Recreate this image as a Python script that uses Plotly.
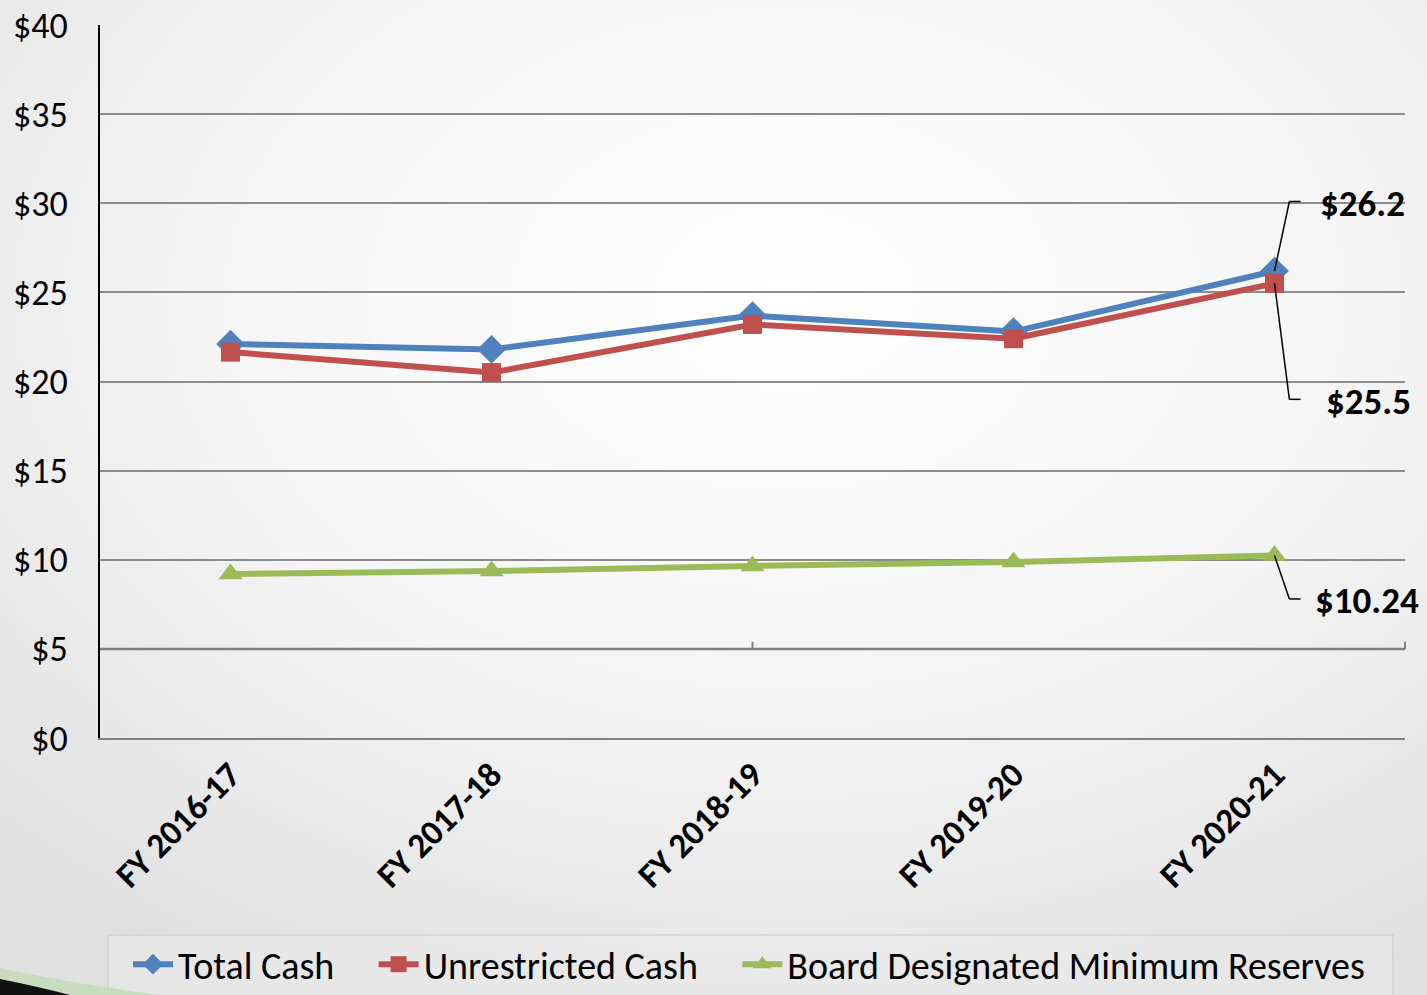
import base64
import plotly.graph_objs as go

# Chart data (millions of dollars)
fiscal_years = ['FY 2016-17', 'FY 2017-18', 'FY 2018-19', 'FY 2019-20', 'FY 2020-21']
total_cash = [22.1, 21.8, 23.7, 22.8, 26.2]
unrestricted_cash = [21.65, 20.5, 23.2, 22.4, 25.5]
board_reserves = [9.2, 9.37, 9.65, 9.87, 10.24]

y_ticks = [0, 5, 10, 15, 20, 25, 30, 35, 40]
y_tick_labels = ['$0', '$5', '$10', '$15', '$20', '$25', '$30', '$35', '$40']

# End-of-series callout labels
end_labels = ['$26.2', '$25.5', '$10.24']

font_family = 'Carlito, Calibri, "Liberation Sans Narrow", "Open Sans", sans-serif'
pad = '\u00a0' * 4  # extra room between legend entries

fig = go.Figure()

fig.add_trace(go.Scatter(x=fiscal_years, y=total_cash, mode='lines+markers', name='Total Cash' + pad,
                         line=dict(color='#4F81BD', width=6),
                         marker=dict(symbol='diamond', size=22, color='#4F81BD')))
fig.add_trace(go.Scatter(x=fiscal_years, y=unrestricted_cash, mode='lines+markers',
                         name='Unrestricted Cash' + pad,
                         line=dict(color='#C0504D', width=6),
                         marker=dict(symbol='square', size=19, color='#C0504D')))
fig.add_trace(go.Scatter(x=fiscal_years, y=board_reserves, mode='lines+markers',
                         name='Board Designated Minimum Reserves',
                         line=dict(color='#9BBB59', width=6),
                         marker=dict(symbol='triangle-up', size=21, color='#9BBB59')))

W, H = 1427, 995
L, R, T, B = 100, 22, 25, 257
pw, ph = W - L - R, H - T - B

# Soft radial background like the slide
svg = ('<svg xmlns="http://www.w3.org/2000/svg" width="1427" height="995">'
       '<defs><radialGradient id="g" cx="0.55" cy="0.3" r="0.8">'
       '<stop offset="0" stop-color="#ffffff"/><stop offset="0.5" stop-color="#f5f5f5"/>'
       '<stop offset="1" stop-color="#e0e0e0"/></radialGradient></defs>'
       '<rect width="1427" height="995" fill="url(#g)"/></svg>')
bg_src = 'data:image/svg+xml;base64,' + base64.b64encode(svg.encode()).decode()


def px_x(p):
    # screen pixel -> paper x
    return (p - L) / pw


def px_y(p):
    # screen pixel -> paper y
    return (H - B - p) / ph


last = len(fiscal_years) - 1
shapes = []
annotations = []

# leader lines: (series end value, elbow y, label x offset, label y)
callouts = [(total_cash[-1], 30.1, 0.168, 30.0),
            (unrestricted_cash[-1], 19.0, 0.19, 18.9),
            (board_reserves[-1], 7.8, 0.148, 7.74)]
for (val, elbow_y, lab_dx, lab_y), text in zip(callouts, end_labels):
    shapes.append(dict(type='line', xref='x', yref='y', x0=last, y0=val, x1=last + 0.057, y1=elbow_y,
                       line=dict(color='black', width=1.5)))
    shapes.append(dict(type='line', xref='x', yref='y', x0=last + 0.057, y0=elbow_y, x1=last + 0.1, y1=elbow_y,
                       line=dict(color='black', width=1.5)))
    annotations.append(dict(x=last + lab_dx, y=lab_y, xref='x', yref='y', text='<b>%s</b>' % text,
                            showarrow=False, xanchor='left', yanchor='middle',
                            font=dict(size=37, color='black', family=font_family)))

# darker line across the $5 gridline with small ticks
shapes.append(dict(type='line', xref='paper', yref='y', x0=0, x1=1, y0=5, y1=5,
                   line=dict(color='#808080', width=2.5)))
shapes.append(dict(type='line', xref='x', yref='y', x0=2, x1=2, y0=5, y1=5.4,
                   line=dict(color='#808080', width=2)))
shapes.append(dict(type='line', xref='paper', yref='y', x0=1, x1=1, y0=5, y1=5.4,
                   line=dict(color='#808080', width=2)))

# legend frame
shapes.append(dict(type='rect', xref='paper', yref='paper', layer='below',
                   x0=px_x(108), x1=px_x(1393), y0=px_y(1000), y1=px_y(935),
                   fillcolor='rgba(236,236,236,0.5)', line=dict(color='#c8c8c8', width=1)))

# slide decoration in the bottom-left corner
shapes.append(dict(type='path', xref='paper', yref='paper', layer='above',
                   path='M %f %f Q %f %f %f %f L %f %f Z' % (
                       px_x(0), px_y(968), px_x(70), px_y(983), px_x(160), px_y(995),
                       px_x(0), px_y(995)),
                   fillcolor='#c9dcc0', line=dict(width=0)))
shapes.append(dict(type='path', xref='paper', yref='paper', layer='above',
                   path='M %f %f Q %f %f %f %f L %f %f Z' % (
                       px_x(0), px_y(979), px_x(40), px_y(987), px_x(70), px_y(995),
                       px_x(0), px_y(995)),
                   fillcolor='#111111', line=dict(width=0)))

fig.update_layout(
    width=W,
    height=H,
    margin=dict(l=L, r=R, t=T, b=B, autoexpand=False),
    paper_bgcolor='#eeeeee',
    plot_bgcolor='rgba(0,0,0,0)',
    font=dict(family=font_family, color='black'),
    showlegend=True,
    legend=dict(orientation='h', xref='container', yref='container',
                x=128 / W, y=1 - 933 / H, xanchor='left', yanchor='top',
                borderwidth=0, bgcolor='rgba(0,0,0,0)',
                font=dict(size=38, family=font_family), itemwidth=40, tracegroupgap=0),
    xaxis=dict(type='category', range=[-0.5, 4.5], showgrid=False, tickangle=-45,
               tickfont=dict(size=35, family=font_family, weight='bold'), automargin=False,
               showline=True, linecolor='#808080', linewidth=2, ticks='', fixedrange=True),
    yaxis=dict(range=[0, 40], tickvals=y_ticks, ticktext=y_tick_labels, showgrid=True,
               gridcolor='#8c8c8c', gridwidth=1.5, zeroline=False, automargin=False,
               showline=True, linecolor='black', linewidth=2, ticklabeloverflow='allow',
               tickfont=dict(size=36, family=font_family), ticklabelstandoff=23),
    shapes=shapes,
    annotations=annotations,
    images=[dict(source=bg_src, xref='paper', yref='paper', x=px_x(0), y=px_y(0),
                 sizex=W / pw, sizey=H / ph, sizing='stretch', layer='below',
                 xanchor='left', yanchor='top')],
)

# drop the browser's default body margin so the figure fills the window
fig.write_html("out.html", config=dict(displayModeBar=False),
               post_script="document.body.style.margin='0';document.body.style.overflow='hidden';")
